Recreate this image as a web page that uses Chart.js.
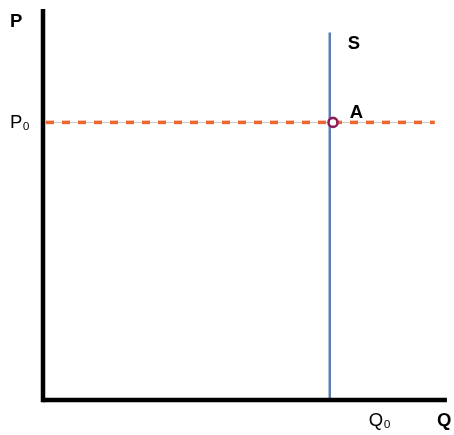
<!DOCTYPE html>
<html>
<head>
<meta charset="utf-8">
<script src="https://cdn.jsdelivr.net/npm/chart.js@4/dist/chart.umd.min.js"></script>
<style>
  html, body { margin: 0; padding: 0; background: #fff; }
  #wrap { width: 454px; height: 435px; }
</style>
</head>
<body>
<div id="wrap"><canvas id="myChart"></canvas></div>
<script>
// economic model values (arbitrary units, axes run 0..100)
const qMax = 100;
const pMax = 100;
const q0 = 71;       // fixed quantity supplied
const p0 = 71;       // price level
const supplyTop = 94;
const priceLineEnd = 97;
const pointA = [{ x: 71.8, y: 71 }];

const supplyLine = [{ x: q0, y: 0 }, { x: q0, y: supplyTop }];
const priceLine = [{ x: 0, y: p0 }, { x: priceLineEnd, y: p0 }];
const yAxisLine = [{ x: 0, y: -0.6 }, { x: 0, y: pMax }];
const xAxisLine = [{ x: 0, y: 0 }, { x: qMax, y: 0 }];

// text labels: anchor in data units, offset in pixels
const labels = [
  { text: 'P', x: 0, y: pMax, dx: -33, dy: 18, bold: true },
  { text: 'P\u2080', x: 0, y: p0, dx: -33, dy: 6, bold: false },
  { text: 'S', x: q0, y: supplyTop, dx: 18, dy: 17, bold: true },
  { text: 'A', x: q0, y: p0, dx: 20, dy: -4, bold: true },
  { text: 'Q\u2080', x: q0, y: 0, dx: 39, dy: 26, bold: false },
  { text: 'Q', x: qMax, y: 0, dx: -10, dy: 26, bold: true }
];

const textLabels = {
  id: 'textLabels',
  afterDatasetsDraw(chart) {
    const ctx = chart.ctx;
    const xs = chart.scales.x, ys = chart.scales.y;
    ctx.save();
    ctx.fillStyle = '#000';
    ctx.textAlign = 'left';
    ctx.textBaseline = 'alphabetic';
    labels.forEach(l => {
      ctx.font = (l.bold ? 'bold ' : '') + '18.5px "Liberation Sans", Arial, sans-serif';
      ctx.fillText(l.text, xs.getPixelForValue(l.x) + l.dx, ys.getPixelForValue(l.y) + l.dy);
    });
    ctx.restore();
  }
};

// lower "order" is drawn on top
const line = (data, color, width, order, extra) => Object.assign({
  type: 'line', data: data, borderColor: color, borderWidth: width, order: order,
  pointRadius: 0, fill: false, clip: false, tension: 0
}, extra || {});

const config = {
  type: 'scatter',
  data: {
    datasets: [
      line(priceLine, '#c4c4c4', 1, 6),
      line(priceLine, '#ef6630', 3.5, 5, { borderDash: [8, 8], borderDashOffset: -3 }),
      line(supplyLine, '#5b7fb2', 2.5, 4),
      line(yAxisLine, '#000', 4.5, 3),
      line(xAxisLine, '#000', 4.5, 2),
      {
        type: 'scatter', data: pointA, order: 1, pointRadius: 4.5, pointBorderWidth: 2.6,
        pointBackgroundColor: '#fff', pointBorderColor: '#8e1b5a', clip: false
      }
    ]
  },
  options: {
    responsive: true,
    maintainAspectRatio: false,
    animation: false,
    layout: { padding: { left: 43, right: 4, top: 9, bottom: 35 } },
    plugins: { legend: { display: false }, tooltip: { enabled: false } },
    scales: {
      x: { type: 'linear', min: 0, max: qMax, display: false },
      y: { type: 'linear', min: 0, max: pMax, display: false }
    }
  },
  plugins: [textLabels]
};

const myChart = new Chart(document.getElementById('myChart'), config);
</script>
</body>
</html>
